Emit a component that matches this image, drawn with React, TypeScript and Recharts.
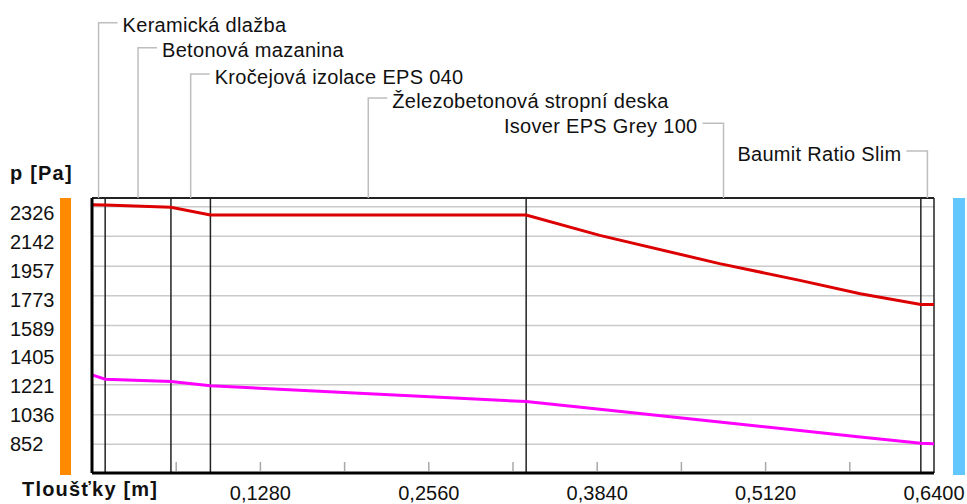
import React from "react";
import { CartesianGrid, Line, LineChart, ReferenceLine, XAxis, YAxis } from "recharts";

// průběh tlaků vodní páry skladbou podlahy
const vzdalenost = [0, 0.01, 0.06, 0.09, 0.33, 0.386, 0.477, 0.538, 0.584, 0.63, 0.64];
const pNasycene = [2338, 2336, 2322, 2274, 2274, 2148, 1973, 1869, 1786, 1720, 1719];
const pCastecne = [1283, 1256, 1242, 1215, 1117, 1069, 990, 938, 898, 858, 855];

const vrstvy = [
  "Keramická dlažba",
  "Betonová mazanina",
  "Kročejová izolace EPS 040",
  "Železobetonová stropní deska",
  "Isover EPS Grey 100",
  "Baumit Ratio Slim",
];
const rozhrani = [0, 0.01, 0.06, 0.09, 0.33, 0.63, 0.64];

const tickyY = [852, 1036, 1221, 1405, 1589, 1773, 1957, 2142, 2326];
const tickyX = [0, 0.064, 0.128, 0.192, 0.256, 0.32, 0.384, 0.448, 0.512, 0.576, 0.64];

// výška vodorovné části vodítka nad grafem a strana popisku
const vyskaVoditka = [22.7, 47.7, 74, 98, 123.3, 151];
const popisVlevo = [false, false, false, false, true, true];

const FONT = "'Liberation Sans', Arial, sans-serif";

const data = vzdalenost.map((x, i) => ({ x, pSat: pNasycene[i], p: pCastecne[i] }));

const stredyVrstev = vrstvy.map((_, i) => (rozhrani[i] + rozhrani[i + 1]) / 2);

function TickY(props: any) {
  const { y, payload, index } = props;
  return (
    <text x={10} y={y + 0.75 * index + 7} fontSize={20} fontFamily={FONT} fill="#111">
      {payload.value}
    </text>
  );
}

function TickX(props: any) {
  const { x, y, payload, index } = props;
  const v = payload.value;
  const okraj = index === 0 || index === tickyX.length - 1;
  const sPopiskem = index > 0 && index % 2 === 0;
  return (
    <g>
      {!okraj && <line x1={x} x2={x} y1={y - 11} y2={y - 2} stroke="#A8A8A8" strokeWidth={1.5} />}
      {sPopiskem && (
        <text x={x} y={y + 26.5} textAnchor="middle" fontSize={20} fontFamily={FONT} fill="#111">
          {v.toFixed(4).replace(".", ",")}
        </text>
      )}
    </g>
  );
}

function voditko(nazev: string, vyska: number, vlevo: boolean) {
  return (props: any) => {
    const { x1, y1, y2 } = props;
    const horni = Math.min(y1, y2);
    const konec = vlevo ? x1 - 21 : x1 + 19;
    return (
      <g>
        <path d={`M${x1},${horni} V${vyska} H${konec}`} stroke="#BEBEBE" strokeWidth={1.5} fill="none" />
        <text
          x={vlevo ? konec - 5 : konec + 5}
          y={vyska + 9.5}
          textAnchor={vlevo ? "end" : "start"}
          fontSize={20}
          letterSpacing={0.3}
          fontFamily={FONT}
          fill="#111"
        >
          {nazev}
        </text>
      </g>
    );
  };
}

export default function App() {
  return (
    <div style={{ position: "absolute", left: 0, top: 0, width: 967, height: 504, background: "#fff" }}>
      <div style={{ position: "absolute", left: 60, top: 198, width: 11, height: 277, background: "#FF8A00" }} />
      <div style={{ position: "absolute", left: 953, top: 198, width: 12, height: 277, background: "#63C7FF" }} />
      <LineChart width={967} height={504} data={data} margin={{ top: 198, right: 33, bottom: 0, left: 0 }}>
        <CartesianGrid vertical={false} stroke="#CACACA" strokeWidth={1.5} />
        <XAxis
          type="number"
          dataKey="x"
          domain={[0, 0.64]}
          ticks={tickyX}
          height={31}
          tickSize={0}
          tickMargin={0}
          tickLine={false}
          axisLine={{ stroke: "#000", strokeWidth: 3 }}
          tick={<TickX />}
          interval={0}
        />
        <YAxis
          type="number"
          domain={[674, 2380]}
          ticks={tickyY}
          width={92}
          tickLine={false}
          axisLine={{ stroke: "#000", strokeWidth: 3 }}
          tick={<TickY />}
          interval={0}
        />
        <ReferenceLine y={2380} stroke="#222" strokeWidth={2} />
        {rozhrani.slice(1).map((r) => (
          <ReferenceLine key={r} x={r} stroke="#222" strokeWidth={1.5} />
        ))}
        {stredyVrstev.map((s, i) => (
          <ReferenceLine
            key={vrstvy[i]}
            x={s}
            stroke="none"
            shape={voditko(vrstvy[i], vyskaVoditka[i], popisVlevo[i])}
          />
        ))}
        <Line type="linear" dataKey="p" stroke="#FF00FF" strokeWidth={3} dot={false} isAnimationActive={false} />
        <Line type="linear" dataKey="pSat" stroke="#DD0000" strokeWidth={3} dot={false} isAnimationActive={false} />
        <text x={10} y={180} fontSize={20} fontWeight="bold" letterSpacing={1.2} fontFamily={FONT} fill="#111">
          p [Pa]
        </text>
        <text x={22} y={496} fontSize={20} fontWeight="bold" letterSpacing={1.2} fontFamily={FONT} fill="#111">
          Tloušťky [m]
        </text>
      </LineChart>
    </div>
  );
}
